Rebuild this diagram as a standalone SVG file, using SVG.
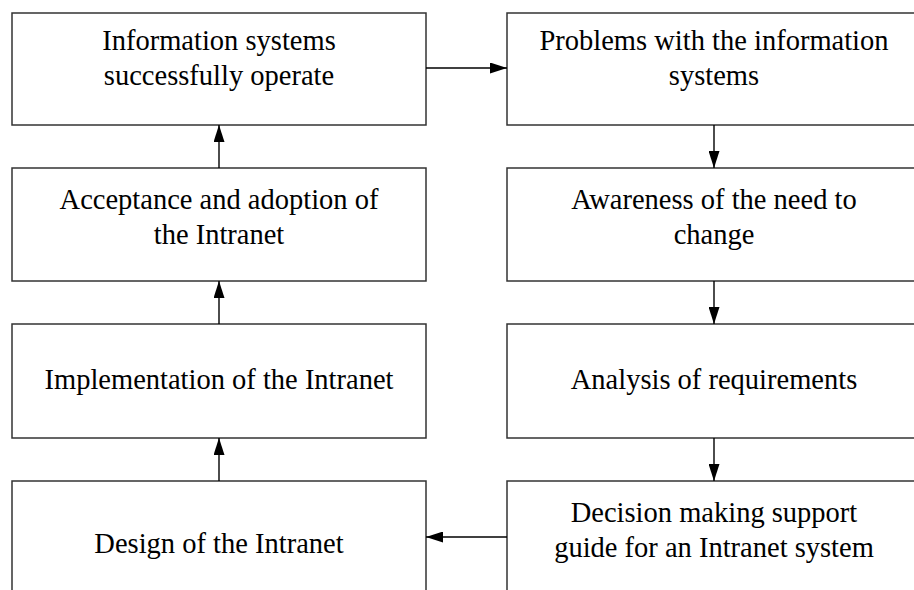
<svg xmlns="http://www.w3.org/2000/svg" width="914" height="590" viewBox="0 0 914 590">
  <style>
    .box { fill: #ffffff; stroke: #333333; stroke-width: 1.5; }
    .lbl { font-family: "Liberation Serif", "Times New Roman", serif; font-size: 28.5px; fill: #000000; text-anchor: middle; }
    .link { stroke: #000000; stroke-width: 1.4; fill: none; marker-end: url(#head); }
  </style>
  <defs>
    <marker id="head" markerUnits="userSpaceOnUse" markerWidth="17" markerHeight="11" refX="17" refY="5.5" orient="auto">
      <path d="M0,0 L17,5.5 L0,11 z" fill="#000000"/>
    </marker>
  </defs>
  <rect width="914" height="590" fill="#ffffff"/>

  <g id="info-systems-operate">
    <rect class="box" x="12" y="13" width="414" height="112"/>
    <text class="lbl" x="219" y="50">Information systems</text>
    <text class="lbl" x="219" y="85">successfully operate</text>
  </g>
  <g id="problems">
    <rect class="box" x="507" y="13" width="414" height="112"/>
    <text class="lbl" x="714" y="50">Problems with the information</text>
    <text class="lbl" x="714" y="85">systems</text>
  </g>
  <g id="acceptance">
    <rect class="box" x="12" y="168" width="414" height="113"/>
    <text class="lbl" x="219" y="209">Acceptance and adoption of</text>
    <text class="lbl" x="219" y="244">the Intranet</text>
  </g>
  <g id="awareness">
    <rect class="box" x="507" y="168" width="414" height="113"/>
    <text class="lbl" x="714" y="209">Awareness of the need to</text>
    <text class="lbl" x="714" y="244">change</text>
  </g>
  <g id="implementation">
    <rect class="box" x="12" y="324" width="414" height="114"/>
    <text class="lbl" x="219" y="389">Implementation of the Intranet</text>
  </g>
  <g id="analysis">
    <rect class="box" x="507" y="324" width="414" height="114"/>
    <text class="lbl" x="714" y="389">Analysis of requirements</text>
  </g>
  <g id="design">
    <rect class="box" x="12" y="481" width="414" height="130"/>
    <text class="lbl" x="219" y="553">Design of the Intranet</text>
  </g>
  <g id="decision-guide">
    <rect class="box" x="507" y="481" width="414" height="130"/>
    <text class="lbl" x="714" y="522">Decision making support</text>
    <text class="lbl" x="714" y="557">guide for an Intranet system</text>
  </g>

  <g id="connectors">
    <line class="link" x1="426" y1="68" x2="507" y2="68"/>
    <line class="link" x1="714" y1="125" x2="714" y2="168"/>
    <line class="link" x1="714" y1="281" x2="714" y2="324"/>
    <line class="link" x1="714" y1="438" x2="714" y2="481"/>
    <line class="link" x1="507" y1="537" x2="426" y2="537"/>
    <line class="link" x1="219" y1="481" x2="219" y2="438"/>
    <line class="link" x1="219" y1="324" x2="219" y2="281"/>
    <line class="link" x1="219" y1="168" x2="219" y2="125"/>
  </g>
</svg>
